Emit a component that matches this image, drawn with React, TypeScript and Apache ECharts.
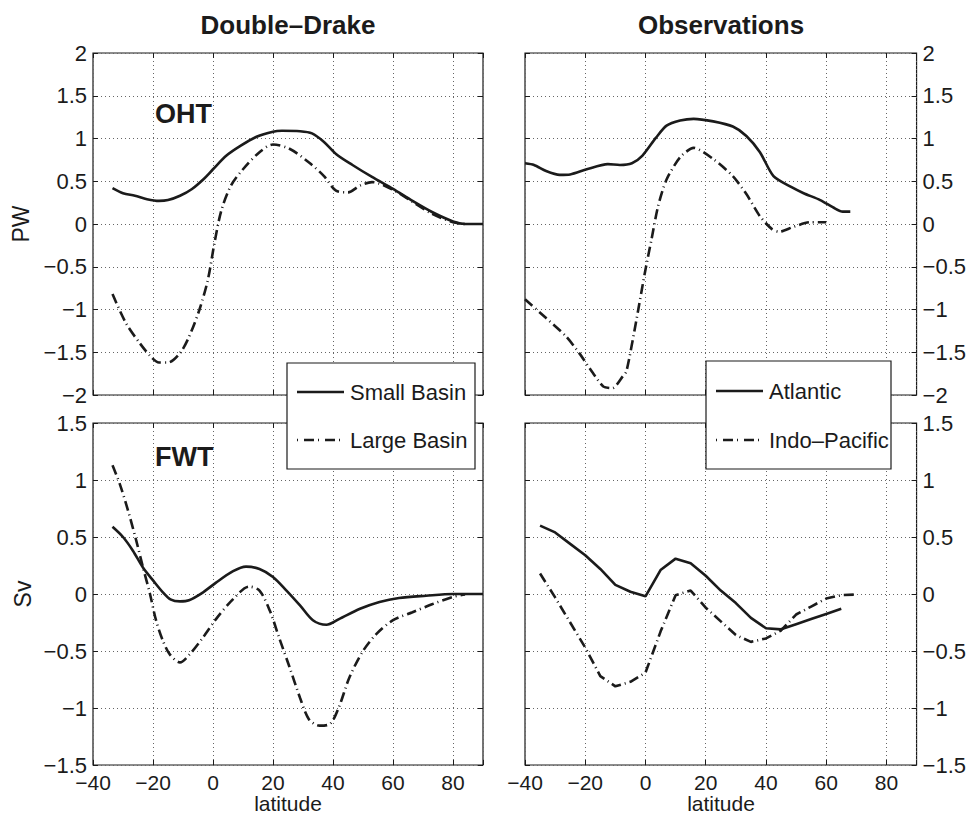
import { useEffect, useRef } from "react";
import * as echarts from "echarts";

// ---- data: [latitude, value] ----
// Double-Drake, ocean heat transport (PW)
const ddOhtSmall: [number, number][] = [
  [-33.5, 0.42], [-30, 0.36], [-26, 0.33], [-22, 0.29], [-18, 0.27], [-15, 0.28], [-11, 0.33],
  [-7, 0.41], [-3, 0.53], [0, 0.64], [4.5, 0.8], [9, 0.91], [14.5, 1.02], [20, 1.08], [23, 1.09],
  [29, 1.085], [33, 1.06], [37, 0.96], [41, 0.82], [46.5, 0.69], [53, 0.55], [60, 0.41],
  [66.5, 0.27], [73, 0.14], [80, 0.03], [84, 0.0], [90, 0.0],
];
const ddOhtLarge: [number, number][] = [
  [-33.5, -0.82], [-29, -1.16], [-24.5, -1.39], [-20.5, -1.56], [-18, -1.62], [-15, -1.62],
  [-11, -1.51], [-8, -1.32], [-4.5, -1.0], [-1.7, -0.65], [0.5, -0.22], [2.8, 0.16], [6, 0.45],
  [10, 0.64], [15.5, 0.84], [20, 0.93], [25.5, 0.88], [32, 0.72], [37, 0.56], [41, 0.39],
  [45, 0.37], [49, 0.45], [53, 0.49], [60, 0.4], [66.5, 0.26], [73, 0.12], [80, 0.02], [84, 0.0],
];
// Observations, ocean heat transport (PW)
const obsOhtAtlantic: [number, number][] = [
  [-40, 0.71], [-37, 0.69], [-33, 0.62], [-28.5, 0.575], [-25, 0.58], [-19.5, 0.64], [-12.5, 0.7],
  [-8.5, 0.69], [-4.5, 0.71], [-1, 0.8], [3.5, 1.01], [7, 1.15], [11.5, 1.21], [16, 1.23],
  [22.5, 1.2], [29, 1.14], [33.5, 1.03], [38, 0.84], [42.5, 0.56], [48.5, 0.43], [52.5, 0.36],
  [58, 0.28], [62.5, 0.19], [65.5, 0.145], [68, 0.145],
];
const obsOhtIndoPac: [number, number][] = [
  [-40, -0.88], [-33, -1.1], [-26.5, -1.31], [-22, -1.51], [-17.5, -1.74], [-14, -1.9],
  [-11, -1.92], [-7.5, -1.78], [-6.3, -1.72], [-3, -1.12], [-0.2, -0.57], [2, -0.18], [4.2, 0.21],
  [7, 0.52], [11.5, 0.78], [16, 0.89], [22.5, 0.76], [29, 0.56], [33.5, 0.35], [38, 0.09],
  [42, -0.06], [44.5, -0.09], [49, -0.035], [54.5, 0.02], [60, 0.02],
];
// Double-Drake, freshwater transport (Sv)
const ddFwtSmall: [number, number][] = [
  [-33.5, 0.59], [-30, 0.5], [-26.7, 0.38], [-23.3, 0.23], [-20, 0.12], [-16.7, 0.015],
  [-14, -0.05], [-11, -0.065], [-8, -0.055], [-3.3, 0.015], [1, 0.1], [6.7, 0.2], [11, 0.24],
  [15.5, 0.22], [20, 0.15], [24.5, 0.03], [29, -0.1], [33.3, -0.23], [37.8, -0.27], [42, -0.22],
  [49, -0.13], [55.5, -0.07], [62, -0.035], [71, -0.015], [80, 0.0], [90, 0.0],
];
const ddFwtLarge: [number, number][] = [
  [-33.5, 1.13], [-31, 0.96], [-28.3, 0.73], [-25.6, 0.47], [-23.3, 0.23], [-21, 0.0],
  [-19, -0.23], [-16.7, -0.41], [-14.4, -0.53], [-11, -0.6], [-7.8, -0.53], [-3.3, -0.38],
  [1, -0.22], [6.7, -0.045], [12, 0.065], [15.5, 0.03], [19, -0.15], [22, -0.38], [25.5, -0.64],
  [29, -0.91], [32, -1.1], [35.5, -1.155], [39, -1.14], [42, -0.99], [45.5, -0.73], [50, -0.5],
  [54.5, -0.35], [60, -0.23], [66.5, -0.16], [73, -0.09], [80, -0.025], [84, -0.005],
];
// Observations, freshwater transport (Sv), 5-degree sampling
const obsFwtAtlantic: [number, number][] = [
  [-35, 0.6], [-30, 0.54], [-25, 0.44], [-20, 0.34], [-15, 0.22], [-10, 0.08], [-5, 0.02],
  [0, -0.02], [5, 0.21], [10, 0.31], [15, 0.27], [20, 0.16], [25, 0.03], [30, -0.08],
  [35, -0.21], [40, -0.3], [45, -0.31], [50, -0.265], [55, -0.22], [60, -0.175], [65, -0.13],
];
const obsFwtIndoPac: [number, number][] = [
  [-35, 0.18], [-30, -0.03], [-25, -0.25], [-20, -0.47], [-15, -0.72], [-10, -0.81], [-5, -0.77],
  [0, -0.69], [5, -0.33], [10, -0.01], [15, 0.03], [20, -0.12], [25, -0.24], [30, -0.36],
  [35, -0.42], [40, -0.39], [45, -0.32], [50, -0.18], [55, -0.11], [60, -0.04], [65, -0.01],
  [70, -0.005],
];

const columnTitles = ["Double\u2013Drake", "Observations"];
const rowLabels = ["OHT", "FWT"];
const rowUnits = ["PW", "Sv"];
const legendNames = [
  ["Small Basin", "Large Basin"],
  ["Atlantic", "Indo\u2013Pacific"],
];

const LAT_MIN = -40;
const LAT_MAX = 90;
const LAT_STEP = 20;
const OHT_RANGE = [-2, 2];
const FWT_RANGE = [-1.5, 1.5];
const VAL_STEP = 0.5;

const FONT = "'Liberation Sans', Arial, Helvetica, sans-serif";
const INK = "#1b1b1b";
const DASH_DOT = [10, 4, 1, 4];

const GRIDS = [
  { left: 93, top: 53, width: 390, height: 342 },
  { left: 525, top: 53, width: 392, height: 342 },
  { left: 93, top: 423, width: 390, height: 342 },
  { left: 525, top: 423, width: 392, height: 342 },
];

const fmt = (v: number) => (v < 0 ? "\u2212" + String(Math.abs(v)) : String(v));

export default function App() {
  const ref = useRef<HTMLDivElement>(null);

  useEffect(() => {
    if (!ref.current) return;
    const chart = echarts.init(ref.current, null, { renderer: "svg" });

    const tickStyle = { show: true, inside: true, length: 5, lineStyle: { color: INK, width: 1 } };
    const gridLine = { show: true, lineStyle: { color: "#666", width: 1, type: [1, 3] as number[] } };
    const labelBase = { fontSize: 22, fontFamily: FONT, color: INK };

    const xAxes: any[] = [];
    const yAxes: any[] = [];
    GRIDS.forEach((_, i) => {
      xAxes.push({
        type: "value",
        gridIndex: i,
        min: LAT_MIN,
        max: LAT_MAX,
        interval: LAT_STEP,
        position: "bottom",
        axisLine: { show: false, onZero: false },
        axisTick: tickStyle,
        axisLabel: {
          ...labelBase,
          fontSize: 21,
          lineHeight: 20,
          show: i >= 2,
          margin: 7,
          formatter: (v: number) => (v === LAT_MAX ? "" : fmt(v)),
        },
        splitLine: gridLine,
      });
    });
    GRIDS.forEach((_, i) => {
      xAxes.push({
        type: "value",
        gridIndex: i,
        min: LAT_MIN,
        max: LAT_MAX,
        interval: LAT_STEP,
        position: "top",
        axisLine: { show: false, onZero: false },
        axisTick: tickStyle,
        axisLabel: { show: false },
        splitLine: { show: false },
      });
    });
    GRIDS.forEach((_, i) => {
      const r = i < 2 ? OHT_RANGE : FWT_RANGE;
      yAxes.push({
        type: "value",
        gridIndex: i,
        min: r[0],
        max: r[1],
        interval: VAL_STEP,
        position: i % 2 === 0 ? "left" : "right",
        axisLine: { show: false, onZero: false },
        axisTick: tickStyle,
        axisLabel: { ...labelBase, lineHeight: 12, margin: 6, formatter: fmt },
        splitLine: gridLine,
      });
    });
    GRIDS.forEach((_, i) => {
      const r = i < 2 ? OHT_RANGE : FWT_RANGE;
      yAxes.push({
        type: "value",
        gridIndex: i,
        min: r[0],
        max: r[1],
        interval: VAL_STEP,
        position: i % 2 === 0 ? "right" : "left",
        axisLine: { show: false, onZero: false },
        axisTick: tickStyle,
        axisLabel: { show: false },
        splitLine: { show: false },
      });
    });

    const panels: { solid: [number, number][]; dashed: [number, number][]; col: number; smooth: number }[] = [
      { solid: ddOhtSmall, dashed: ddOhtLarge, col: 0, smooth: 0.3 },
      { solid: obsOhtAtlantic, dashed: obsOhtIndoPac, col: 1, smooth: 0.25 },
      { solid: ddFwtSmall, dashed: ddFwtLarge, col: 0, smooth: 0.3 },
      { solid: obsFwtAtlantic, dashed: obsFwtIndoPac, col: 1, smooth: 0 },
    ];

    const series: any[] = [];
    panels.forEach((p, i) => {
      series.push({
        type: "line",
        name: legendNames[p.col][0],
        xAxisIndex: i,
        yAxisIndex: i,
        data: p.solid,
        symbol: "none",
        smooth: p.smooth,
        lineStyle: { color: INK, width: 2.6, type: "solid" },
        z: 3,
      });
      series.push({
        type: "line",
        name: legendNames[p.col][1],
        xAxisIndex: i,
        yAxisIndex: i,
        data: p.dashed,
        symbol: "none",
        smooth: p.smooth,
        lineStyle: { color: INK, width: 2.6, type: DASH_DOT },
        z: 4,
      });
    });

    const txt = (x: number, y: number, text: string, size: number, opts: any = {}) => ({
      type: "text",
      x,
      y,
      z: 100,
      rotation: opts.rotation || 0,
      style: {
        text,
        fill: INK,
        fontSize: size,
        fontFamily: FONT,
        fontWeight: opts.bold ? "bold" : "normal",
        align: opts.align || "center",
        verticalAlign: "middle",
      },
    });

    const legendBox = (x: number, y: number, w: number, h: number, names: string[], lx: number, rows: number[]) => [
      {
        type: "rect",
        z: 100,
        shape: { x, y, width: w, height: h },
        style: { fill: "#fff", stroke: INK, lineWidth: 1.2 },
      },
      {
        type: "line",
        z: 101,
        shape: { x1: lx, y1: rows[0], x2: lx + 47, y2: rows[0] },
        style: { stroke: INK, lineWidth: 2.6 },
      },
      {
        type: "line",
        z: 101,
        shape: { x1: lx, y1: rows[1], x2: lx + 47, y2: rows[1] },
        style: { stroke: INK, lineWidth: 2.6, lineDash: [1, 6, 10, 4] },
      },
      { ...txt(lx + 53, rows[0], names[0], 22, { align: "left" }), z: 101 },
      { ...txt(lx + 53, rows[1], names[1], 22, { align: "left" }), z: 101 },
    ];

    const graphic: any[] = [
      txt(288, 25, columnTitles[0], 26, { bold: true }),
      txt(721, 25, columnTitles[1], 26, { bold: true }),
      txt(155, 114, rowLabels[0], 27, { bold: true, align: "left" }),
      txt(155, 457, rowLabels[1], 27, { bold: true, align: "left" }),
      txt(21, 224, rowUnits[0], 23, { rotation: Math.PI / 2 }),
      txt(23, 594, rowUnits[1], 23, { rotation: Math.PI / 2 }),
      txt(288, 803, "latitude", 21),
      txt(721, 803, "latitude", 21),
      ...legendBox(287, 363, 188, 106, legendNames[0], 297, [392, 440]),
      ...legendBox(706, 361, 185, 108, legendNames[1], 716, [391, 440]),
    ];

    chart.setOption({
      animation: false,
      backgroundColor: "#fff",
      grid: GRIDS.map((g) => ({ ...g, show: true, borderColor: INK, borderWidth: 1.2, containLabel: false })),
      xAxis: xAxes,
      yAxis: yAxes,
      series,
      graphic,
    });

    return () => chart.dispose();
  }, []);

  return (
    <div
      ref={ref}
      style={{ position: "absolute", left: 0, top: 0, width: 969, height: 814, background: "#fff" }}
    />
  );
}
